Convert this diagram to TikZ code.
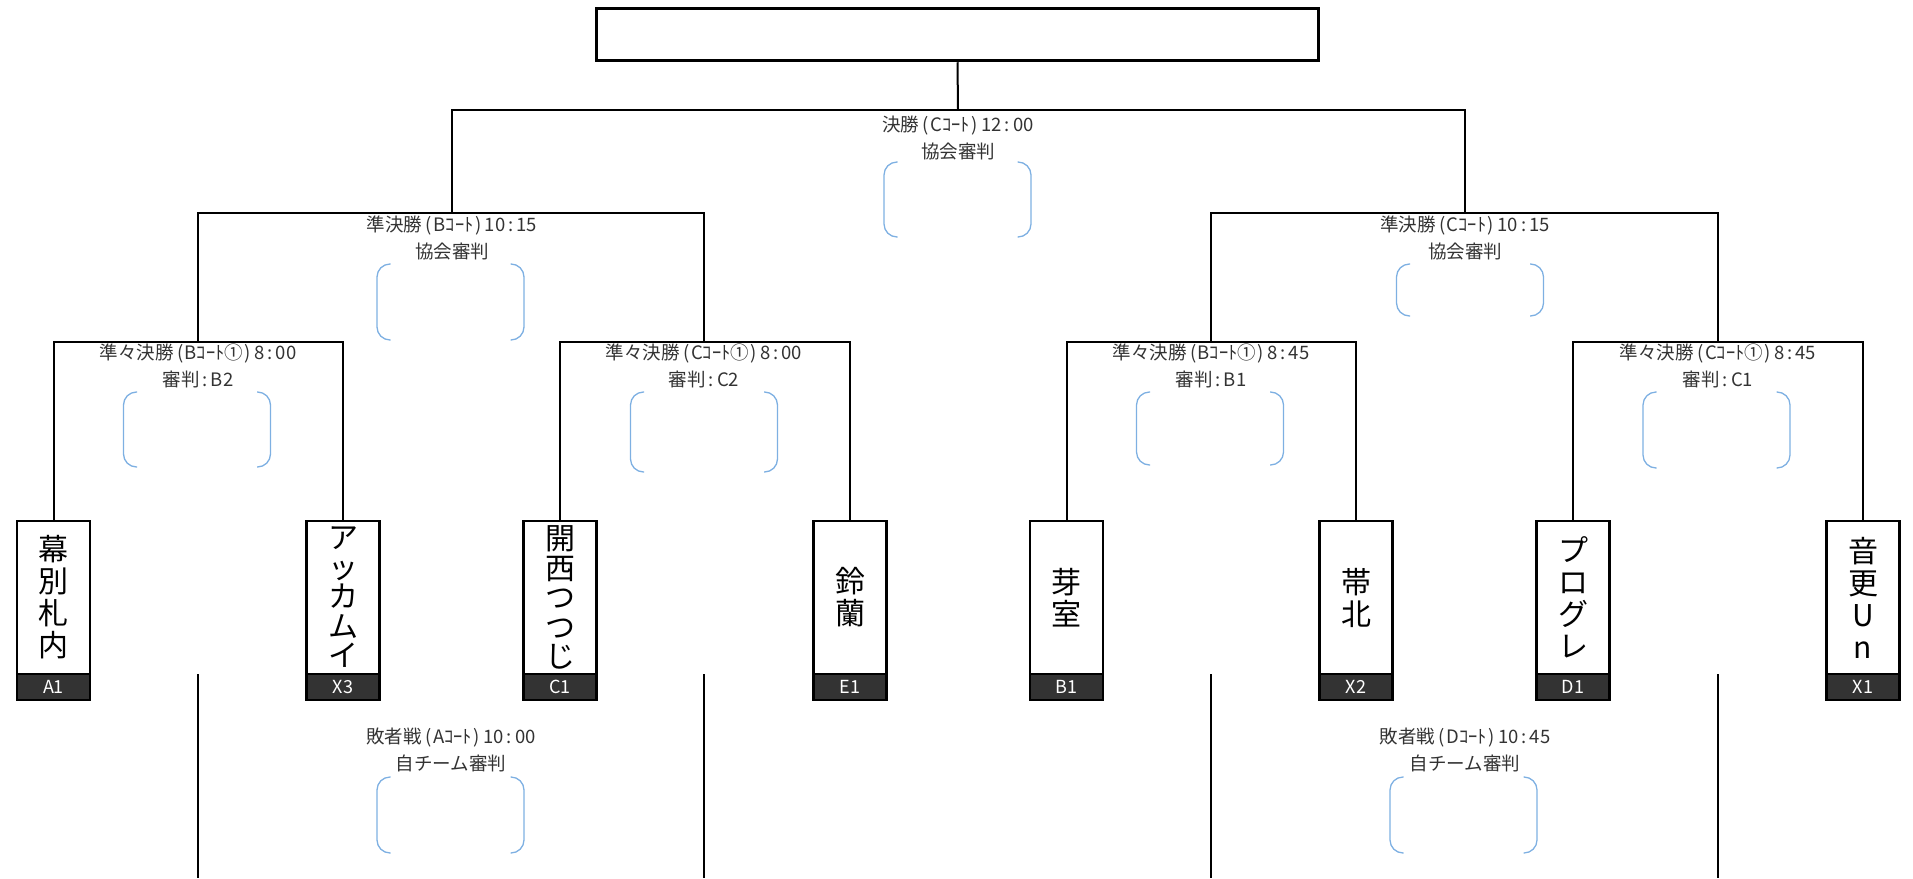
\documentclass[tikz,border=0pt]{standalone}
\usepackage{fontspec}
\setmainfont{Noto Sans CJK JP}
\usepackage{xcolor}
\usetikzlibrary{positioning}
\definecolor{judgeblue}{HTML}{7EB0E2}
\definecolor{seedgray}{HTML}{333333}
\definecolor{labelgray}{HTML}{333333}
\newcommand{\lpar}{\kern3.5pt(\kern1.5pt}
\newcommand{\rpar}{\kern1.5pt)\kern3.5pt}
\newcommand{\cln}{\kern3pt:\kern3pt}

\begin{document}
\begin{tikzpicture}[x=1pt, y=-1pt,
  line/.style={line width=2pt, black},
  team/.style={draw, line width=2.5pt, fill=white, minimum width=73pt, minimum height=153pt,
    inner sep=0pt, outer sep=0pt, align=center, font=\fontsize{30}{32}\selectfont},
  fivechar/.style={font=\fontsize{30}{29.5}\selectfont},
  seed/.style={draw, line width=2.5pt, fill=seedgray, text=white, minimum width=73pt,
    minimum height=26pt, inner sep=0pt, outer sep=0pt, font=\fontsize{18}{18}\selectfont},
  match/.style={align=center, inner sep=0pt, text=labelgray, font=\fontsize{18.5}{27}\selectfont},
  judge/.style={judgeblue, line width=1.3pt, rounded corners=13pt},
  titlebox/.style={draw, line width=3.5pt, minimum width=722pt, minimum height=52pt, inner sep=0pt}]
  \useasboundingbox (0,0) rectangle (1913,878);

  %Title box
  \node[titlebox] (champ) at (957.5,34.5) {};

  %Teams
  \node[team] (t1) at (53.5,597.5) {幕\\別\\札\\内};
  \node[team, fivechar] (t2) at (343,597.5) {ア\\ッ\\カ\\ム\\イ};
  \node[team, fivechar] (t3) at (560,597.5) {開\\西\\つ\\つ\\じ};
  \node[team] (t4) at (850,597.5) {鈴\\蘭};
  \node[team] (t5) at (1066.5,597.5) {芽\\室};
  \node[team] (t6) at (1356,597.5) {帯\\北};
  \node[team] (t7) at (1573,597.5) {プ\\ロ\\グ\\レ};
  \node[team] (t8) at (1863,597.5) {音\\更\\U\\n};
  \foreach \i/\s in {1/A1, 2/X3, 3/C1, 4/E1, 5/B1, 6/X2, 7/D1, 8/X1}
    \node[seed, below=0pt of t\i] (s\i) {\s};

  %Joints
  \coordinate (q1) at (198,342);
  \coordinate (q2) at (704,342);
  \coordinate (q3) at (1211,342);
  \coordinate (q4) at (1718,342);
  \coordinate (sf1) at (452,213);
  \coordinate (sf2) at (1465,213);
  \coordinate (fin) at (958,110);
  \coordinate (bot) at (0,878);

  %Bracket lines
  \foreach \a/\b/\q in {t1/t2/q1, t3/t4/q2, t5/t6/q3, t7/t8/q4}
    \draw[line] (\a.north) |- (\q) -| (\b.north);
  \draw[line] (q1) |- (sf1) -| (q2);
  \draw[line] (q3) |- (sf2) -| (q4);
  \draw[line] (sf1) |- (fin) -| (sf2);
  \draw[line] (fin) -- (champ.south);

  %Losers
  \foreach \q/\t in {q1/t1, q2/t3, q3/t5, q4/t7}
    \draw[line] (\q |- \t.south) -- (\q |- bot);

  %Match labels
  \node[match, below=6pt of fin] (lfin) {決勝\lpar Cｺｰﾄ\rpar 12\cln 00\\協会審判};
  \node[match, below=3pt of sf1] (lsf1) {準決勝\lpar Bｺｰﾄ\rpar 10\cln 15\\協会審判};
  \node[match, below=3pt of sf2] (lsf2) {準決勝\lpar Cｺｰﾄ\rpar 10\cln 15\\協会審判};
  \node[match, below=2pt of q1] (lq1) {準々決勝\lpar Bｺｰﾄ①\rpar 8\cln 00\\審判\cln B2};
  \node[match, below=2pt of q2] (lq2) {準々決勝\lpar Cｺｰﾄ①\rpar 8\cln 00\\審判\cln C2};
  \node[match, below=2pt of q3] (lq3) {準々決勝\lpar Bｺｰﾄ①\rpar 8\cln 45\\審判\cln B1};
  \node[match, below=2pt of q4] (lq4) {準々決勝\lpar Cｺｰﾄ①\rpar 8\cln 45\\審判\cln C1};
  \node[match, anchor=north] (ll1) at (451,728) {敗者戦\lpar Aｺｰﾄ\rpar 10\cln 00\\自チーム審判};
  \node[match, anchor=north] (ll2) at (1465,728) {敗者戦\lpar Dｺｰﾄ\rpar 10\cln 45\\自チーム審判};

  %Score brackets
  \foreach \cx/\ty/\h in {957.5/162/75, 450.5/264/76, 1470/264/52, 197/392/75, 704/392/80,
      1210/392/73, 1716.5/392/76, 450.5/777/76, 1463.5/777/76}{
    \draw[judge] (\cx-60,\ty) -- (\cx-73.5,\ty) -- (\cx-73.5,\ty+\h) -- (\cx-60,\ty+\h);
    \draw[judge] (\cx+60,\ty) -- (\cx+73.5,\ty) -- (\cx+73.5,\ty+\h) -- (\cx+60,\ty+\h);
  }
\end{tikzpicture}
\end{document}
